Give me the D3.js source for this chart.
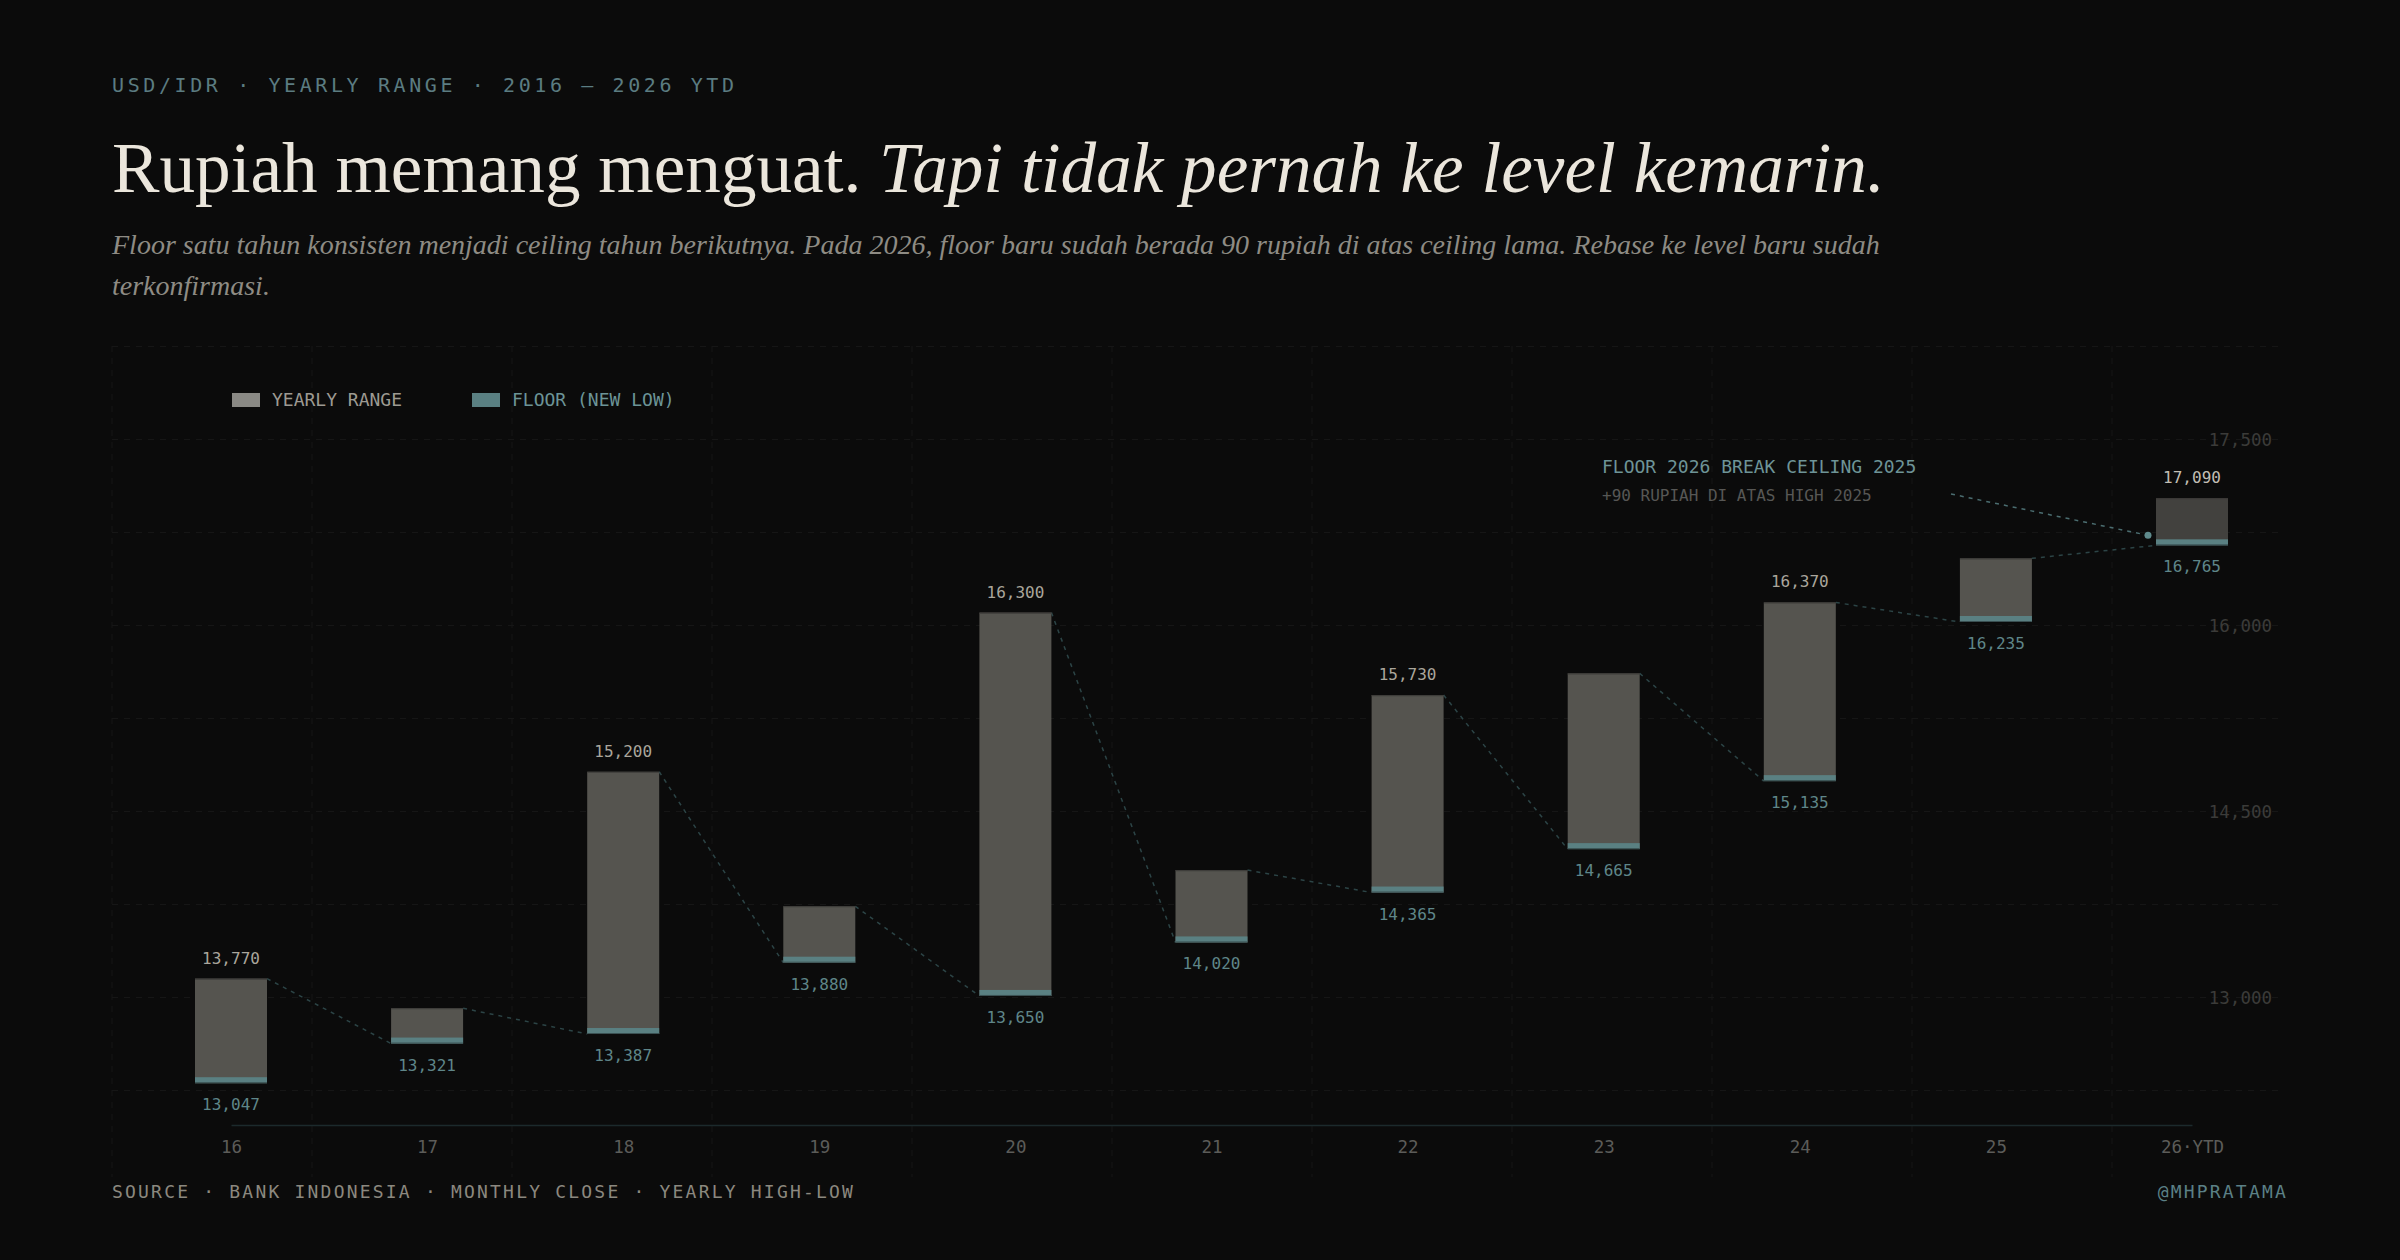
<!DOCTYPE html>
<html>
<head>
<meta charset="utf-8">
<script src="https://cdn.jsdelivr.net/npm/d3@7"></script>
<style>
  body { margin: 0; background: #0b0b0b; }
  svg { display: block; }
  text { font-family: "DejaVu Sans Mono", monospace; }
  .serif { font-family: "Liberation Serif", "Times New Roman", serif; }
</style>
</head>
<body>
<svg id="chart"></svg>
<script>
// yearly USD/IDR high-low
var years = ["16", "17", "18", "19", "20", "21", "22", "23", "24", "25", "26·YTD"];
var highs = [13770, 13565, 15200, 14270, 16300, 14520, 15730, 15880, 16370, 16675, 17090];
var lows  = [13047, 13321, 13387, 13880, 13650, 14020, 14365, 14665, 15135, 16235, 16765];
// which highs get a printed label
var showHigh = [true, false, true, false, true, false, true, false, true, false, true];

var yTicks = [13000, 14500, 16000, 17500];
var gridTicks = [12250, 13000, 13750, 14500, 15250, 16000, 16750, 17500, 18250];

var W = 2400, H = 1260;
var barW = 72, floorH = 6;
var fmt = d3.format(",");

var svg = d3.select("#chart")
    .attr("width", W)
    .attr("height", H);

var x = d3.scalePoint().domain(years).range([231, 2192]);
var y = d3.scaleLinear().domain([13000, 17500]).range([1090, 439]);
// tick labels sit on their own, tighter ladder
var yLab = d3.scaleLinear().domain([13000, 17500]).range([997.4, 439.4]);

// background grid
var gridX = d3.range(112, 2289, 200);
svg.append("g").selectAll("line")
    .data(gridX)
    .enter().append("line")
    .attr("x1", function (d) { return d; })
    .attr("x2", function (d) { return d; })
    .attr("y1", 346)
    .attr("y2", 1177)
    .attr("stroke", "#161616")
    .attr("stroke-width", 1)
    .attr("stroke-dasharray", "6,6");

svg.append("g").selectAll("line")
    .data(gridTicks)
    .enter().append("line")
    .attr("x1", 112)
    .attr("x2", 2280)
    .attr("y1", function (d) { return yLab(d); })
    .attr("y2", function (d) { return yLab(d); })
    .attr("stroke", "#181818")
    .attr("stroke-width", 1)
    .attr("stroke-dasharray", "6,6");

// y labels
var yAxis = d3.axisRight(yLab).tickValues(yTicks).tickFormat(fmt).tickSize(0).tickPadding(0);
var yG = svg.append("g").attr("transform", "translate(2272,0)").call(yAxis);
yG.select(".domain").remove();
yG.selectAll("text")
    .attr("text-anchor", "end")
    .attr("fill", "#3b3b39")
    .style("font-size", "17.5px")
    .style("font-family", "DejaVu Sans Mono, monospace");

// x axis
var xAxis = d3.axisBottom(x).tickSize(0).tickPadding(16);
var xG = svg.append("g").attr("transform", "translate(0,1125)").call(xAxis);
xG.select(".domain").attr("stroke", "#1c2a2c").attr("stroke-width", 1.5);
xG.selectAll("text")
    .attr("fill", "#5c5c59")
    .style("font-size", "17.5px")
    .style("font-family", "DejaVu Sans Mono, monospace");

// connectors: ceiling of one year to floor of the next
var pairs = d3.range(years.length - 1);
svg.append("g").selectAll("line")
    .data(pairs)
    .enter().append("line")
    .attr("x1", function (i) { return x(years[i]) + barW / 2; })
    .attr("y1", function (i) { return y(highs[i]); })
    .attr("x2", function (i) { return x(years[i + 1]) - barW / 2; })
    .attr("y2", function (i) { return y(lows[i + 1]); })
    .attr("stroke", "#2c4446")
    .attr("stroke-width", 1.5)
    .attr("stroke-dasharray", "4,5");

// bars
var idx = d3.range(years.length);
var bars = svg.append("g").selectAll("g")
    .data(idx)
    .enter().append("g");

bars.append("rect")
    .attr("x", function (i) { return x(years[i]) - barW / 2; })
    .attr("y", function (i) { return y(highs[i]); })
    .attr("width", barW)
    .attr("height", function (i) { return y(lows[i]) - y(highs[i]); })
    .attr("fill", function (i) { return i === years.length - 1 ? "#42413e" : "#55544f"; });

bars.append("line")
    .attr("x1", function (i) { return x(years[i]) - barW / 2; })
    .attr("x2", function (i) { return x(years[i]) + barW / 2; })
    .attr("y1", function (i) { return y(highs[i]) + 0.5; })
    .attr("y2", function (i) { return y(highs[i]) + 0.5; })
    .attr("stroke", "#3e3d3a")
    .attr("stroke-width", 1.2);

bars.append("rect")
    .attr("x", function (i) { return x(years[i]) - barW / 2; })
    .attr("y", function (i) { return y(lows[i]) - floorH; })
    .attr("width", barW)
    .attr("height", floorH)
    .attr("fill", "#5a8082");

bars.append("line")
    .attr("x1", function (i) { return x(years[i]) - barW / 2; })
    .attr("x2", function (i) { return x(years[i]) + barW / 2; })
    .attr("y1", function (i) { return y(lows[i]) - 0.5; })
    .attr("y2", function (i) { return y(lows[i]) - 0.5; })
    .attr("stroke", "#3a5052")
    .attr("stroke-width", 1);

bars.filter(function (i) { return showHigh[i]; })
    .append("text")
    .attr("x", function (i) { return x(years[i]); })
    .attr("y", function (i) { return y(highs[i]) - 15; })
    .attr("text-anchor", "middle")
    .attr("fill", function (i) { return i === years.length - 1 ? "#c2beb4" : "#aaa69c"; })
    .style("font-size", "16px")
    .text(function (i) { return fmt(highs[i]); });

bars.append("text")
    .attr("x", function (i) { return x(years[i]); })
    .attr("y", function (i) { return y(lows[i]) + 27; })
    .attr("text-anchor", "middle")
    .attr("fill", "#5f8689")
    .style("font-size", "16px")
    .text(function (i) { return fmt(lows[i]); });

// annotation
var last = years.length - 1;
var dotX = x(years[last]) - barW / 2 - 8;
var dotY = y(lows[last]) - 10;
svg.append("line")
    .attr("x1", 1951).attr("y1", 494)
    .attr("x2", dotX).attr("y2", dotY)
    .attr("stroke", "#4b6d70")
    .attr("stroke-width", 1.5)
    .attr("stroke-dasharray", "4,5");
svg.append("circle")
    .attr("cx", dotX).attr("cy", dotY).attr("r", 3.5)
    .attr("fill", "#5f8a8c");
svg.append("text")
    .attr("x", 1602).attr("y", 473)
    .attr("fill", "#6e9497")
    .style("font-size", "18px")
    .text("FLOOR 2026 BREAK CEILING 2025");
svg.append("text")
    .attr("x", 1602).attr("y", 501)
    .attr("fill", "#575755")
    .style("font-size", "16px")
    .text("+90 RUPIAH DI ATAS HIGH 2025");

// legend
var legend = [
    { label: "YEARLY RANGE", swatch: "#8a8984", color: "#9d9a92", x: 232 },
    { label: "FLOOR (NEW LOW)", swatch: "#5a8082", color: "#6c9497", x: 472 }
];
var lg = svg.append("g").selectAll("g")
    .data(legend)
    .enter().append("g");
lg.append("rect")
    .attr("x", function (d) { return d.x; })
    .attr("y", 393)
    .attr("width", 28)
    .attr("height", 14)
    .attr("fill", function (d) { return d.swatch; });
lg.append("text")
    .attr("x", function (d) { return d.x + 40; })
    .attr("y", 406)
    .attr("fill", function (d) { return d.color; })
    .style("font-size", "18px")
    .text(function (d) { return d.label; });

// header texts
svg.append("text")
    .attr("x", 112).attr("y", 92)
    .attr("fill", "#5b7c81")
    .style("font-size", "20px")
    .style("letter-spacing", "3.6px")
    .text("USD/IDR · YEARLY RANGE · 2016 — 2026 YTD");

var title = svg.append("text")
    .attr("class", "serif")
    .attr("x", 112).attr("y", 192)
    .attr("fill", "#ebe6dc")
    .style("font-size", "71.2px");
title.append("tspan").text("Rupiah memang menguat. ");
title.append("tspan").style("font-style", "italic").text("Tapi tidak pernah ke level kemarin.");

var sub = svg.append("text")
    .attr("class", "serif")
    .attr("x", 112).attr("y", 254)
    .attr("fill", "#8e8b84")
    .style("font-size", "28px")
    .style("font-style", "italic");
sub.append("tspan").attr("x", 112)
    .text("Floor satu tahun konsisten menjadi ceiling tahun berikutnya. Pada 2026, floor baru sudah berada 90 rupiah di atas ceiling lama. Rebase ke level baru sudah");
sub.append("tspan").attr("x", 112).attr("dy", 41)
    .text("terkonfirmasi.");

// footer
svg.append("text")
    .attr("x", 112).attr("y", 1198)
    .attr("fill", "#8b887f")
    .style("font-size", "18px")
    .style("letter-spacing", "2.2px")
    .text("SOURCE · BANK INDONESIA · MONTHLY CLOSE · YEARLY HIGH-LOW");
svg.append("text")
    .attr("x", 2288).attr("y", 1198)
    .attr("text-anchor", "end")
    .attr("fill", "#5b8086")
    .style("font-size", "18px")
    .style("letter-spacing", "2.2px")
    .text("@MHPRATAMA");
</script>
</body>
</html>
